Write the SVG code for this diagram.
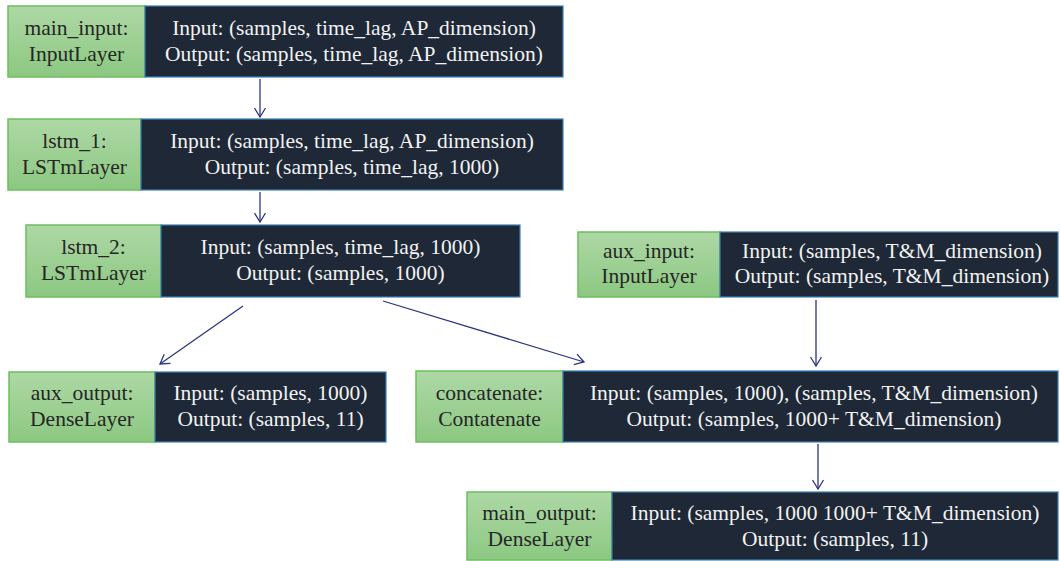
<svg xmlns="http://www.w3.org/2000/svg" width="1060" height="561" viewBox="0 0 1060 561" font-family="Liberation Serif, DejaVu Serif, serif" font-size="21.5">
<style>
.g{fill:url(#gr);stroke:#6cbf5f;stroke-width:1.5}
.d{fill:#1e2836;stroke:#3d7fb3;stroke-width:1.2}
.gt{fill:#262626;text-anchor:middle}
.dt{fill:#f2f2f2;text-anchor:middle}
.c{stroke:#2b3681;stroke-width:1.3;fill:none;marker-end:url(#ah)}
</style>
<defs>
<linearGradient id="gr" x1="0" y1="0" x2="0" y2="1">
<stop offset="0" stop-color="#aed8a5"/>
<stop offset="1" stop-color="#8cc882"/>
</linearGradient>
<marker id="ah" markerUnits="userSpaceOnUse" markerWidth="14" markerHeight="14" refX="12" refY="7" orient="auto">
<path d="M3,1.5 L12,7 L3,12.5" fill="none" stroke="#2b3681" stroke-width="1.3"/>
</marker>
</defs>
<rect width="1060" height="561" fill="#ffffff"/>
<g id="connectors">
<line class="c" x1="260" y1="79" x2="260" y2="117"/>
<line class="c" x1="260" y1="192" x2="260" y2="222"/>
<line class="c" x1="243" y1="306" x2="160" y2="364"/>
<line class="c" x1="383" y1="301" x2="584" y2="362"/>
<line class="c" x1="816" y1="300" x2="816" y2="366"/>
<line class="c" x1="818" y1="444" x2="818" y2="489"/>
</g>
<g id="main_input">
<rect class="g" x="8" y="6" width="137" height="71"/>
<rect class="d" x="145" y="6" width="418" height="71"/>
<text class="gt" x="76.5" y="35">main_input:</text>
<text class="gt" x="76.5" y="61">InputLayer</text>
<text class="dt" x="354" y="35">Input: (samples, time_lag, AP_dimension)</text>
<text class="dt" x="354" y="61">Output: (samples, time_lag, AP_dimension)</text>
</g>
<g id="lstm_1">
<rect class="g" x="8" y="119" width="133" height="71"/>
<rect class="d" x="141" y="119" width="422" height="71"/>
<text class="gt" x="74.5" y="148">lstm_1:</text>
<text class="gt" x="74.5" y="174">LSTmLayer</text>
<text class="dt" x="352" y="148">Input: (samples, time_lag, AP_dimension)</text>
<text class="dt" x="352" y="174">Output: (samples, time_lag, 1000)</text>
</g>
<g id="lstm_2">
<rect class="g" x="26" y="225" width="135" height="72"/>
<rect class="d" x="161" y="225" width="359" height="72"/>
<text class="gt" x="93.5" y="254">lstm_2:</text>
<text class="gt" x="93.5" y="280">LSTmLayer</text>
<text class="dt" x="340.5" y="254">Input: (samples, time_lag, 1000)</text>
<text class="dt" x="340.5" y="280">Output: (samples, 1000)</text>
</g>
<g id="aux_input">
<rect class="g" x="578" y="232" width="142" height="65"/>
<rect class="d" x="720" y="232" width="338" height="65"/>
<text class="gt" x="649" y="258">aux_input:</text>
<text class="gt" x="649" y="283">InputLayer</text>
<text class="dt" x="892" y="258">Input: (samples, T&amp;M_dimension)</text>
<text class="dt" x="892" y="283">Output: (samples, T&amp;M_dimension)</text>
</g>
<g id="aux_output">
<rect class="g" x="9" y="372" width="146" height="70"/>
<rect class="d" x="155" y="372" width="231" height="70"/>
<text class="gt" x="82" y="400">aux_output:</text>
<text class="gt" x="82" y="426">DenseLayer</text>
<text class="dt" x="270.5" y="400">Input: (samples, 1000)</text>
<text class="dt" x="270.5" y="426">Output: (samples, 11)</text>
</g>
<g id="concatenate">
<rect class="g" x="416" y="371" width="147" height="71"/>
<rect class="d" x="563" y="371" width="495" height="71"/>
<text class="gt" x="489.5" y="400">concatenate:</text>
<text class="gt" x="489.5" y="426">Contatenate</text>
<text class="dt" x="814" y="400">Input: (samples, 1000), (samples, T&amp;M_dimension)</text>
<text class="dt" x="814" y="426">Output: (samples, 1000+ T&amp;M_dimension)</text>
</g>
<g id="main_output">
<rect class="g" x="467" y="492" width="145" height="68"/>
<rect class="d" x="612" y="492" width="446" height="68"/>
<text class="gt" x="539.5" y="520">main_output:</text>
<text class="gt" x="539.5" y="546">DenseLayer</text>
<text class="dt" x="835" y="520">Input: (samples, 1000 1000+ T&amp;M_dimension)</text>
<text class="dt" x="835" y="546">Output: (samples, 11)</text>
</g>
</svg>
